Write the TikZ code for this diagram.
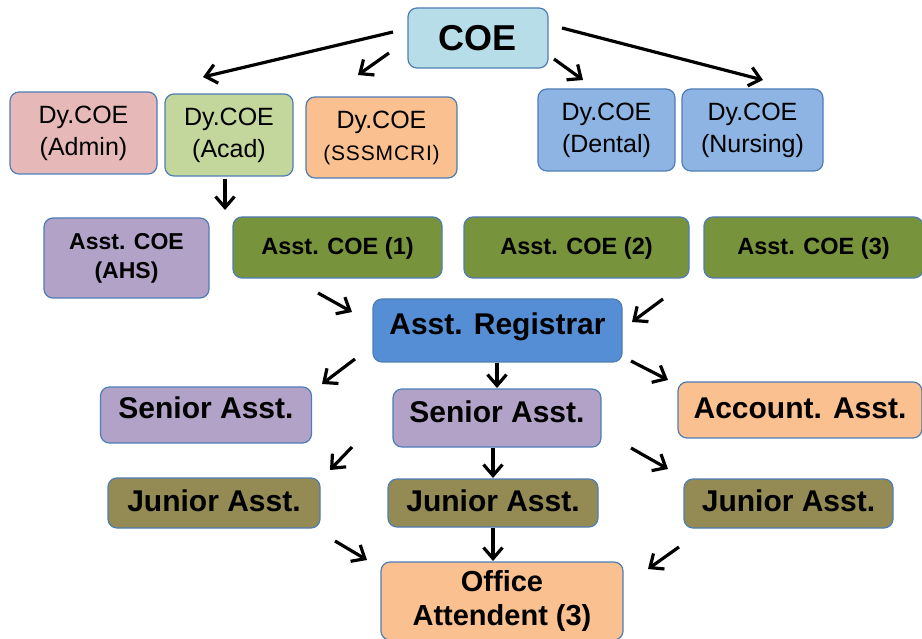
\documentclass[tikz,border=0pt]{standalone}
\usepackage{fontspec}
\setmainfont{Liberation Sans}
\usetikzlibrary{arrows.meta}
\definecolor{bord}{HTML}{4F7DB5}
\definecolor{cCOE}{HTML}{B7DEE8}
\definecolor{cAdmin}{HTML}{E6B9B8}
\definecolor{cAcad}{HTML}{C3D69B}
\definecolor{cOrange}{HTML}{FAC090}
\definecolor{cBlue}{HTML}{8EB4E3}
\definecolor{cPurple}{HTML}{B3A2C7}
\definecolor{cGreen}{HTML}{77933C}
\definecolor{cReg}{HTML}{558ED5}
\definecolor{cOlive}{HTML}{948A54}
\tikzset{
  box/.style={draw=bord, line width=1.2pt, rounded corners=9pt, inner sep=0pt, align=center, text=black},
  one/.style 2 args={text height=#1, text depth=#2},
  arr/.style={-{Straight Barb[length=11pt,width=19pt]}, line width=3.2pt, black},
  fszb/.style={font=\fontsize{#1}{#1}\selectfont\bfseries},
  dy/.style={font=\fontsize{25}{32}\selectfont},
}
\begin{document}
\begin{tikzpicture}[x=1pt,y=-1pt]
\useasboundingbox (0,0) rectangle (922,639);
\fill[white] (0,0) rectangle (922,639);
% top
\node[box, fill=cCOE, minimum width=140pt, minimum height=60pt, fszb=36, one={25.8pt}{0pt}] (coe) at (478,38) {COE};
\node[box, fill=cAdmin, minimum width=147pt, minimum height=82pt, dy] (admin) at (83.5,133) {Dy.COE\\(Admin)};
\node[box, fill=cAcad, minimum width=128pt, minimum height=82pt, dy] (acad) at (229,135) {Dy.COE\\(Acad)};
\node[box, fill=cOrange, minimum width=151pt, minimum height=81pt, dy] (sss) at (381.5,137.5) {Dy.COE\\{\fontsize{21}{21}\selectfont\addfontfeature{LetterSpace=4}(SSSMCRI)}};
\node[box, fill=cBlue, minimum width=137pt, minimum height=82pt, dy] (dental) at (606.5,130) {Dy.COE\\(Dental)};
\node[box, fill=cBlue, minimum width=141pt, minimum height=82pt, dy] (nursing) at (752.5,130) {Dy.COE\\(Nursing)};
% asst coe row
\node[box, fill=cPurple, minimum width=165pt, minimum height=80pt, font=\fontsize{23}{29}\selectfont\bfseries] (ahs) at (126.5,258) {Asst. COE\\(AHS)};
\node[box, fill=cGreen, minimum width=209pt, minimum height=61pt, fszb=23.5, one={16.8pt}{2pt}] (a1) at (337.5,247.5) {Asst. COE (1)};
\node[box, fill=cGreen, minimum width=225pt, minimum height=61pt, fszb=23.5, one={16.8pt}{2pt}] (a2) at (576.5,247.5) {Asst. COE (2)};
\node[box, fill=cGreen, minimum width=219pt, minimum height=61pt, fszb=23.5, one={16.8pt}{2pt}] (a3) at (813.5,247.5) {Asst. COE (3)};
% registrar
\node[box, fill=cReg, minimum width=249pt, minimum height=63pt, fszb=30, one={21.5pt}{14pt}] (reg) at (497.5,330.5) {Asst. Registrar};
% senior row
\node[box, fill=cPurple, minimum width=211pt, minimum height=56pt, fszb=30, one={21.5pt}{14pt}] (senl) at (206,415) {Senior Asst.};
\node[box, fill=cPurple, minimum width=208pt, minimum height=58pt, fszb=30, one={21.5pt}{12pt}] (senm) at (497,418) {Senior Asst.};
\node[box, fill=cOrange, minimum width=244pt, minimum height=56pt, fszb=30, one={21.5pt}{5pt}] (acc) at (800,410) {Account. Asst.};
% junior row
\node[box, fill=cOlive, minimum width=212pt, minimum height=50pt, fszb=30, one={21.5pt}{5pt}] (junl) at (214,503) {Junior Asst.};
\node[box, fill=cOlive, minimum width=210pt, minimum height=48pt, fszb=30, one={21.5pt}{5pt}] (junm) at (493,503) {Junior Asst.};
\node[box, fill=cOlive, minimum width=209pt, minimum height=49pt, fszb=30, one={21.5pt}{5pt}] (junr) at (788.5,503.5) {Junior Asst.};
% office
\node[box, fill=cOrange, minimum width=242pt, minimum height=78pt, font=\fontsize{29}{35}\selectfont\bfseries] (office) at (502,601) {Office\\Attendent (3)};
% arrow end points
\coordinate (p1s) at (393,32);  \coordinate (p1e) at (203,77);
\coordinate (p2s) at (389,53);  \coordinate (p2e) at (358,75);
\coordinate (p3s) at (554,59);  \coordinate (p3e) at (583,80);
\coordinate (p4s) at (562,28);  \coordinate (p4e) at (763,80);
\coordinate (p5s) at (225,179); \coordinate (p5e) at (225,210);
\coordinate (p6s) at (318,293); \coordinate (p6e) at (352,312);
\coordinate (p7s) at (663,299); \coordinate (p7e) at (632,322);
\coordinate (p8s) at (355,359); \coordinate (p8e) at (322,384);
\coordinate (p9e) at (497,388);
\coordinate (p10s) at (631,361); \coordinate (p10e) at (668,380);
\coordinate (p11s) at (352,447); \coordinate (p11e) at (330,470);
\coordinate (p12e) at (493,478);
\coordinate (p13s) at (631,448); \coordinate (p13e) at (668,469);
\coordinate (p14s) at (335,541); \coordinate (p14e) at (367,560);
\coordinate (p15e) at (493,561);
\coordinate (p16s) at (679,547); \coordinate (p16e) at (648,569);
% arrows
\draw[arr] (p1s) -- (p1e);
\draw[arr] (p2s) -- (p2e);
\draw[arr] (p3s) -- (p3e);
\draw[arr] (p4s) -- (p4e);
\draw[arr] (p5s) -- (p5e);
\draw[arr] (p6s) -- (p6e);
\draw[arr] (p7s) -- (p7e);
\draw[arr] (p8s) -- (p8e);
\draw[arr] (reg.south -| p9e) -- (p9e);
\draw[arr] (p10s) -- (p10e);
\draw[arr] (p11s) -- (p11e);
\draw[arr] (senm.south -| p12e) -- (p12e);
\draw[arr] (p13s) -- (p13e);
\draw[arr] (p14s) -- (p14e);
\draw[arr] (junm.south -| p15e) -- (p15e);
\draw[arr] (p16s) -- (p16e);
\end{tikzpicture}
\end{document}
